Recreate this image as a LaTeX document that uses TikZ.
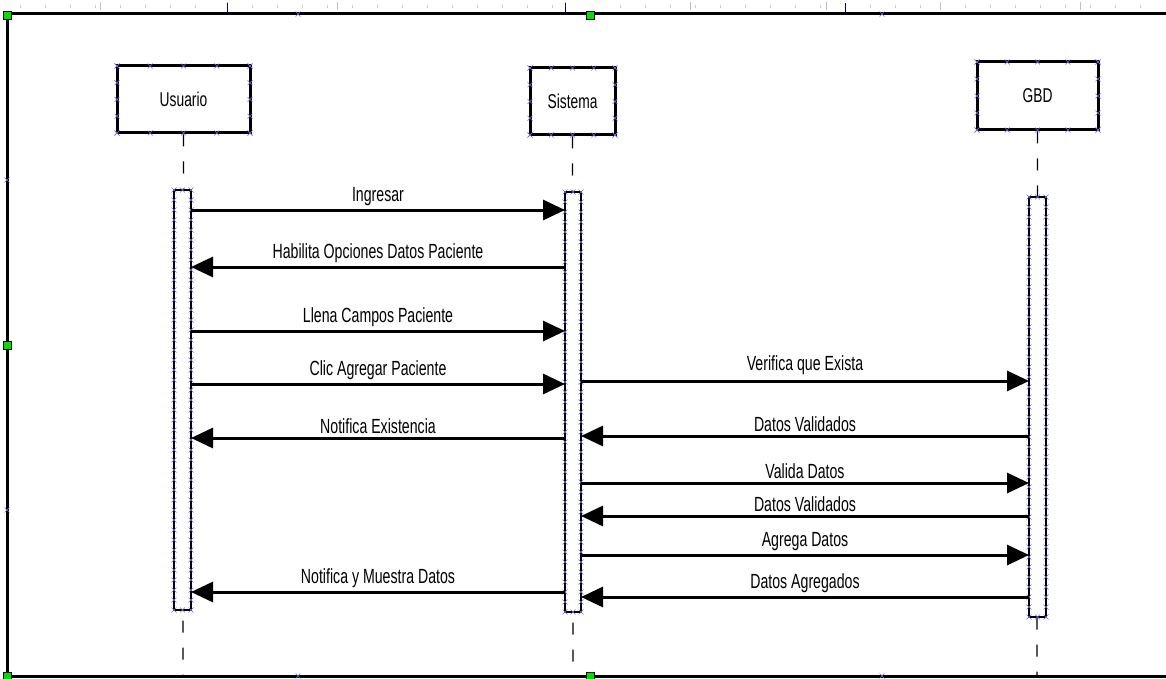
\documentclass[tikz,border=0pt]{standalone}
\usepackage{fontspec}
\setmainfont{Liberation Sans}[FakeStretch=0.69]
\usetikzlibrary{arrows.meta}
\definecolor{hdl}{HTML}{6A6AE0}
\definecolor{grn}{HTML}{00E000}
\tikzset{
  actor/.style={draw=black, line width=3pt, minimum width=#1, inner sep=0pt, font=\fontsize{20}{22}\selectfont},
  actbar/.style={draw=black, line width=2pt, fill=white},
  life/.style={line width=1.2pt, dash pattern=on 12pt off 15pt},
  msg/.style={line width=3pt, -{Triangle[length=22pt,width=20pt]}},
  lbl/.style={font=\fontsize{20.5}{22}\selectfont, inner sep=0pt},
  frameline/.style={line width=3pt},
  handle/.style={fill=grn, draw=black, line width=0.6pt, minimum size=8pt, inner sep=0pt},
}
\newcommand{\xm}[2]{\draw[hdl, line width=0.6pt] (#1-2.5,#2-2.5) -- (#1+2.5,#2+2.5) (#1-2.5,#2+2.5) -- (#1+2.5,#2-2.5);}
\begin{document}
\begin{tikzpicture}[x=1pt,y=-1pt]
\useasboundingbox (0,0) rectangle (1166,679);
\fill[white] (0,0) rectangle (1166,679);
% ruler ticks on top
\foreach \t in {20,45,70,95,120,145,170,195,252,277,302,327,352,377,402,427,452,477,502,527,552,620,645,670,695,720,745,770,795,820,870,895,920,965,990,1015,1040,1065,1090,1115,1140}{
  \draw[gray!40, line width=0.5pt] (\t,5) -- (\t,8);}
\foreach \t in {100,227,337,565,690,826,940,1080}{\draw[gray!50, line width=0.6pt] (\t,2) -- (\t,10);}
\foreach \t in {227,565,845}{\draw[blue!60!black, line width=0.8pt] (\t,3) -- (\t,12);}
% frame
\draw[frameline] (1166,14) -- (7,14) -- (7,676) -- (1166,676);
\xm{298}{14}\xm{882}{14}\xm{7}{180}\xm{7}{510}\xm{298}{676}\xm{882}{676}
% actors
\node[actor, minimum width=133pt, minimum height=67pt] (usr) at (183.5,99.5) {Usuario};
\node[actor, minimum width=85pt, minimum height=67pt] (sis) at (572.5,101.5) {Sistema};
\node[actor, minimum width=121pt, minimum height=68pt] (gbd) at (1037.5,96) {GBD};
% handles on actor boxes
\foreach \cx/\hw/\cy/\hh in {183.5/66.5/99.5/33.5, 572.5/42.5/101.5/33.5, 1037.5/60.5/96/34}{
  \foreach \f in {-1,-0.5,0,0.5,1}{
    \xm{\cx+\f*\hw}{\cy-\hh}\xm{\cx+\f*\hw}{\cy+\hh}
    \xm{\cx-\hw}{\cy+\f*\hh}\xm{\cx+\hw}{\cy+\f*\hh}
  }
}
% lifelines
\coordinate (usrEnd) at (183,676);
\coordinate (sisEnd) at (573,676);
\coordinate (gbdEnd) at (1037,676);
\draw[life] (usr.south) -- (usrEnd);
\draw[life] (sis.south) -- (sisEnd);
\draw[life] (gbd.south) -- (gbdEnd);
% activation bars
\node[actbar, minimum width=17pt, minimum height=420pt, inner sep=0pt] (au) at (182.5,400) {};
\node[actbar, minimum width=16pt, minimum height=420pt, inner sep=0pt] (as) at (573,402) {};
\node[actbar, minimum width=17pt, minimum height=420pt, inner sep=0pt] (ag) at (1037.5,407) {};
\foreach \cx/\hw/\ya in {182.5/8.5/190, 573/8/192, 1037.5/8.5/197}{
  \foreach \k in {0,...,42}{
    \xm{\cx-\hw}{\ya+\k*10}\xm{\cx+\hw}{\ya+\k*10}
  }
  \xm{\cx}{\ya}\xm{\cx}{\ya+420}
}
% message anchor coordinates
\foreach \y in {210,267,331,384,438,592}{
  \coordinate (uR\y) at (191,\y);
  \coordinate (sL\y) at (565,\y);
}
\foreach \y in {381,436,483,516,555,597}{
  \coordinate (sR\y) at (581,\y);
  \coordinate (gL\y) at (1029,\y);
}
% messages Usuario <-> Sistema
\draw[msg] (uR210) -- (sL210) node[lbl, midway, above=3pt] {Ingresar};
\draw[msg] (sL267) -- (uR267) node[lbl, midway, above=3pt] {Habilita Opciones Datos Paciente};
\draw[msg] (uR331) -- (sL331) node[lbl, midway, above=3pt] {Llena Campos Paciente};
\draw[msg] (uR384) -- (sL384) node[lbl, midway, above=3pt] {Clic Agregar Paciente};
\draw[msg] (sL438) -- (uR438) node[lbl, midway, above=3pt] {Notifica Existencia};
\draw[msg] (sL592) -- (uR592) node[lbl, midway, above=3pt] {Notifica y Muestra Datos};
% messages Sistema <-> GBD
\draw[msg] (sR381) -- (gL381) node[lbl, midway, above=5pt] {Verifica que Exista};
\draw[msg] (gL436) -- (sR436) node[lbl, midway, above=3pt] {Datos Validados};
\draw[msg] (sR483) -- (gL483) node[lbl, midway, above=3pt] {Valida Datos};
\draw[msg] (gL516) -- (sR516) node[lbl, midway, above=3pt] {Datos Validados};
\draw[msg] (sR555) -- (gL555) node[lbl, midway, above=3pt] {Agrega Datos};
\draw[msg] (gL597) -- (sR597) node[lbl, midway, above=3pt] {Datos Agregados};
% green selection handles
\node[handle] (h1) at (7,15) {};
\node[handle] (h2) at (590,15) {};
\node[handle] (h3) at (7,345) {};
\node[handle] (h4) at (7,676) {};
\node[handle] (h5) at (590,676) {};
\end{tikzpicture}
\end{document}
